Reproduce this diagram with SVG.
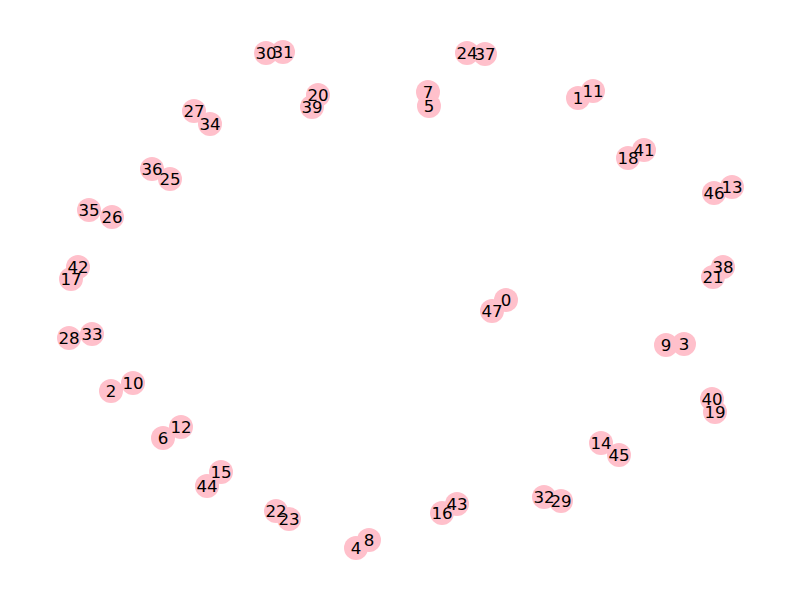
<svg xmlns="http://www.w3.org/2000/svg" width="800" height="600" viewBox="0 0 800 600">
<style>
.n{fill:#FFC0CB;stroke:none}
.l{font-family:"DejaVu Sans",sans-serif;font-size:16.67px;fill:#000;text-anchor:middle}
</style>
<rect width="800" height="600" fill="#fff"/>
<g id="edges"></g>
<g id="nodes">
<g id="node-0"><circle class="n" cx="506" cy="300" r="12"/></g>
<g id="node-1"><circle class="n" cx="578" cy="98" r="12"/></g>
<g id="node-2"><circle class="n" cx="111" cy="391" r="12"/></g>
<g id="node-3"><circle class="n" cx="684" cy="344" r="12"/></g>
<g id="node-4"><circle class="n" cx="356" cy="548" r="12"/></g>
<g id="node-5"><circle class="n" cx="429" cy="106" r="12"/></g>
<g id="node-6"><circle class="n" cx="163" cy="438" r="12"/></g>
<g id="node-7"><circle class="n" cx="428" cy="92" r="12"/></g>
<g id="node-8"><circle class="n" cx="369" cy="540" r="12"/></g>
<g id="node-9"><circle class="n" cx="666" cy="345" r="12"/></g>
<g id="node-10"><circle class="n" cx="133" cy="383" r="12"/></g>
<g id="node-11"><circle class="n" cx="593" cy="91" r="12"/></g>
<g id="node-12"><circle class="n" cx="181" cy="427" r="12"/></g>
<g id="node-13"><circle class="n" cx="732" cy="187" r="12"/></g>
<g id="node-14"><circle class="n" cx="601" cy="443" r="12"/></g>
<g id="node-15"><circle class="n" cx="221" cy="472" r="12"/></g>
<g id="node-16"><circle class="n" cx="442" cy="513" r="12"/></g>
<g id="node-17"><circle class="n" cx="71" cy="279" r="12"/></g>
<g id="node-18"><circle class="n" cx="628" cy="158" r="12"/></g>
<g id="node-19"><circle class="n" cx="715" cy="412" r="12"/></g>
<g id="node-20"><circle class="n" cx="318" cy="95" r="12"/></g>
<g id="node-21"><circle class="n" cx="713" cy="277" r="12"/></g>
<g id="node-22"><circle class="n" cx="276" cy="511" r="12"/></g>
<g id="node-23"><circle class="n" cx="289" cy="519" r="12"/></g>
<g id="node-24"><circle class="n" cx="467" cy="53" r="12"/></g>
<g id="node-25"><circle class="n" cx="170" cy="179" r="12"/></g>
<g id="node-26"><circle class="n" cx="112" cy="217" r="12"/></g>
<g id="node-27"><circle class="n" cx="194" cy="111" r="12"/></g>
<g id="node-28"><circle class="n" cx="69" cy="338" r="12"/></g>
<g id="node-29"><circle class="n" cx="561" cy="501" r="12"/></g>
<g id="node-30"><circle class="n" cx="266" cy="53" r="12"/></g>
<g id="node-31"><circle class="n" cx="283" cy="52" r="12"/></g>
<g id="node-32"><circle class="n" cx="544" cy="497" r="12"/></g>
<g id="node-33"><circle class="n" cx="92" cy="334" r="12"/></g>
<g id="node-34"><circle class="n" cx="210" cy="124" r="12"/></g>
<g id="node-35"><circle class="n" cx="89" cy="210" r="12"/></g>
<g id="node-36"><circle class="n" cx="152" cy="169" r="12"/></g>
<g id="node-37"><circle class="n" cx="485" cy="54" r="12"/></g>
<g id="node-38"><circle class="n" cx="723" cy="267" r="12"/></g>
<g id="node-39"><circle class="n" cx="312" cy="107" r="12"/></g>
<g id="node-40"><circle class="n" cx="712" cy="399" r="12"/></g>
<g id="node-41"><circle class="n" cx="644" cy="150" r="12"/></g>
<g id="node-42"><circle class="n" cx="78" cy="267" r="12"/></g>
<g id="node-43"><circle class="n" cx="457" cy="504" r="12"/></g>
<g id="node-44"><circle class="n" cx="207" cy="486" r="12"/></g>
<g id="node-45"><circle class="n" cx="619" cy="455" r="12"/></g>
<g id="node-46"><circle class="n" cx="714" cy="193" r="12"/></g>
<g id="node-47"><circle class="n" cx="492" cy="311" r="12"/></g>
</g>
<g id="labels" class="l" transform="translate(0,5.8)">
<text x="506" y="300">0</text>
<text x="578" y="98">1</text>
<text x="111" y="391">2</text>
<text x="684" y="344">3</text>
<text x="356" y="548">4</text>
<text x="429" y="106">5</text>
<text x="163" y="438">6</text>
<text x="428" y="92">7</text>
<text x="369" y="540">8</text>
<text x="666" y="345">9</text>
<text x="133" y="383">10</text>
<text x="593" y="91">11</text>
<text x="181" y="427">12</text>
<text x="732" y="187">13</text>
<text x="601" y="443">14</text>
<text x="221" y="472">15</text>
<text x="442" y="513">16</text>
<text x="71" y="279">17</text>
<text x="628" y="158">18</text>
<text x="715" y="412">19</text>
<text x="318" y="95">20</text>
<text x="713" y="277">21</text>
<text x="276" y="511">22</text>
<text x="289" y="519">23</text>
<text x="467" y="53">24</text>
<text x="170" y="179">25</text>
<text x="112" y="217">26</text>
<text x="194" y="111">27</text>
<text x="69" y="338">28</text>
<text x="561" y="501">29</text>
<text x="266" y="53">30</text>
<text x="283" y="52">31</text>
<text x="544" y="497">32</text>
<text x="92" y="334">33</text>
<text x="210" y="124">34</text>
<text x="89" y="210">35</text>
<text x="152" y="169">36</text>
<text x="485" y="54">37</text>
<text x="723" y="267">38</text>
<text x="312" y="107">39</text>
<text x="712" y="399">40</text>
<text x="644" y="150">41</text>
<text x="78" y="267">42</text>
<text x="457" y="504">43</text>
<text x="207" y="486">44</text>
<text x="619" y="455">45</text>
<text x="714" y="193">46</text>
<text x="492" y="311">47</text>
</g>
</svg>
